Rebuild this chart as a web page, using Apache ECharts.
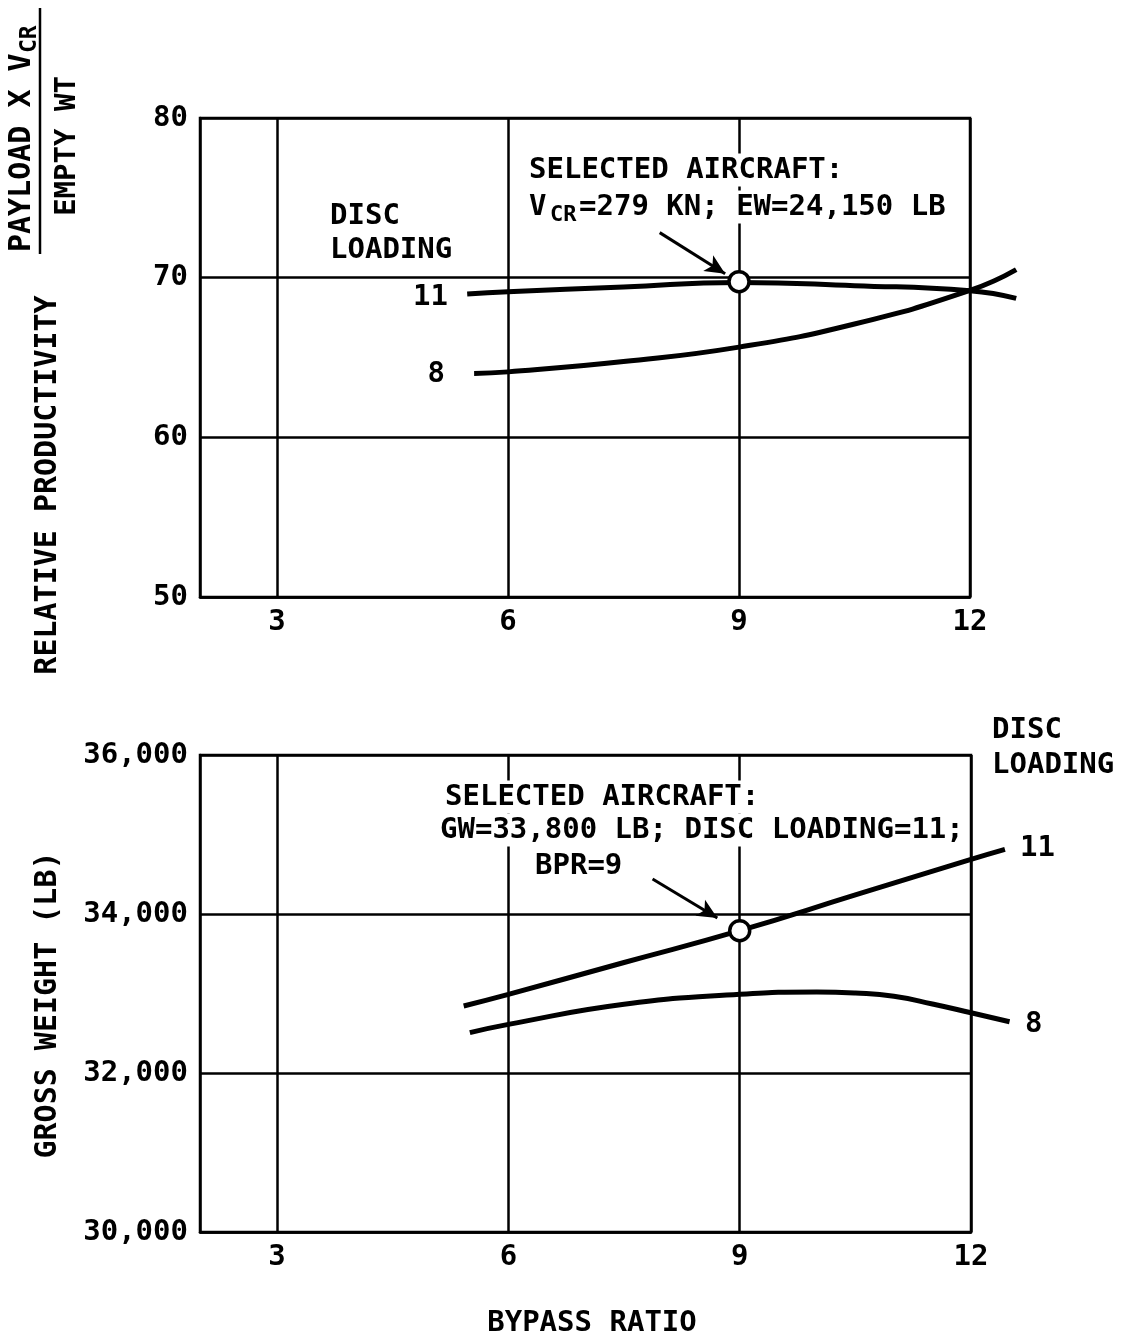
<!DOCTYPE html>
<html>
<head>
<meta charset="utf-8">
<script src="https://cdn.jsdelivr.net/npm/echarts@6/dist/echarts.min.js"></script>
<style>
html,body{margin:0;padding:0;background:#fff;}
#chart{width:1123px;height:1337px;}
</style>
</head>
<body>
<div id="chart"></div>
<script>
// ---- data ----
const xTicks = [3, 6, 9, 12];
// Top chart: relative productivity vs bypass ratio
const topX11 = [5.47, 6, 7.5, 9, 10.5, 12, 12.6];
const topY11 = [68.98, 69.12, 69.42, 69.7, 69.5, 69.18, 68.7];
const topX8  = [5.56, 6, 7.5, 9, 10.5, 12, 12.6];
const topY8  = [64.0, 64.1, 64.75, 65.65, 67.1, 69.2, 70.5];
const topSelected = [9, 69.75];
const topArrow = [[7.97, 72.82], [8.82, 70.25]];
// Bottom chart: gross weight vs bypass ratio
const botX11 = [5.42, 6, 7.5, 9, 10.5, 12, 12.44];
const botY11 = [32843, 32989, 33390, 33790, 34240, 34688, 34814];
const botX8  = [5.5, 6, 7.5, 9, 10, 10.5, 11, 11.5, 12, 12.5];
const botY8  = [32507, 32612, 32864, 32990, 33020, 33006, 32965, 32868, 32758, 32645];
const botSelected = [9, 33790];
const botArrow = [[7.87, 34440], [8.71, 33950]];

const FONT = '"DejaVu Sans Mono", monospace';
const FS = 29;
const X_MIN = 2, X_MAX = 12, X_EXT = 12.7; // curves run a little past the frame
const pairs = (xs, ys) => xs.map((x, i) => [x, ys[i]]);

const chart = echarts.init(document.getElementById('chart'), null, {renderer: 'canvas'});

const G_LEFT = 200;
const G_TOP_W = 770, G_BOT_W = 771;
const extW = w => w * (X_EXT - X_MIN) / (X_MAX - X_MIN);

function xAxisDef(gi) {
  return {
    type: 'value', gridIndex: gi, min: X_MIN, max: X_MAX,
    axisLine: {show: true, lineStyle: {color: '#000', width: 2.5}},
    axisTick: {show: false, customValues: xTicks},
    axisLabel: {customValues: xTicks, color: '#000', fontFamily: FONT, fontWeight: 'bold', fontSize: FS, margin: 11},
    splitLine: {show: true, lineStyle: {color: '#000', width: 2.5}}
  };
}
function xAxisHidden(gi) {
  return {type: 'value', gridIndex: gi, min: X_MIN, max: X_EXT, show: false, splitLine: {show: false}};
}
function yAxisDef(gi, min, max, interval, fmt) {
  return {
    type: 'value', gridIndex: gi, min: min, max: max, interval: interval,
    axisLine: {show: true, lineStyle: {color: '#000', width: 2.5}},
    axisTick: {show: false},
    axisLabel: {color: '#000', fontFamily: FONT, fontWeight: 'bold', fontSize: FS, margin: 12, formatter: fmt},
    splitLine: {show: true, lineStyle: {color: '#000', width: 2.5}}
  };
}
function yAxisHidden(gi, min, max) {
  return {type: 'value', gridIndex: gi, min: min, max: max, show: false, splitLine: {show: false}};
}
function lineSeries(ai, data) {
  return {
    type: 'line', xAxisIndex: ai, yAxisIndex: ai, data: data,
    smooth: true, showSymbol: false, symbol: 'none',
    lineStyle: {color: '#000', width: 5}, z: 5
  };
}
function selSeries(ai, pt, arrow) {
  return {
    type: 'scatter', xAxisIndex: ai, yAxisIndex: ai, data: [pt],
    symbol: 'circle', symbolSize: 20, z: 10,
    itemStyle: {color: '#fff', borderColor: '#000', borderWidth: 3.5, opacity: 1},
    markLine: {
      silent: true, symbol: ['none', 'arrow'], symbolSize: [14, 20],
      label: {show: false},
      lineStyle: {color: '#000', width: 3, type: 'solid', opacity: 1},
      data: [[{coord: arrow[0]}, {coord: arrow[1]}]]
    }
  };
}
function txt(x, y, text, opts) {
  opts = opts || {};
  return {
    type: 'text', x: x, y: y, z: opts.z || 50, rotation: opts.rot || 0,
    style: {
      text: text, fill: '#000',
      font: 'bold ' + (opts.fs || FS) + 'px ' + FONT,
      align: opts.align || 'left', verticalAlign: 'middle',
      backgroundColor: opts.bg || 'transparent',
      padding: opts.bg ? [2, 2] : 0
    }
  };
}

const option = {
  backgroundColor: '#fff',
  animation: false,
  grid: [
    {left: G_LEFT, top: 118, width: G_TOP_W, height: 479, show: true, borderColor: '#000', borderWidth: 2.5, backgroundColor: 'transparent'},
    {left: G_LEFT, top: 755, width: G_BOT_W, height: 477, show: true, borderColor: '#000', borderWidth: 2.5, backgroundColor: 'transparent'},
    {left: G_LEFT, top: 118, width: extW(G_TOP_W), height: 479, show: false},
    {left: G_LEFT, top: 755, width: extW(G_BOT_W), height: 477, show: false}
  ],
  xAxis: [xAxisDef(0), xAxisDef(1), xAxisHidden(2), xAxisHidden(3)],
  yAxis: [
    yAxisDef(0, 50, 80, 10, v => String(v)),
    yAxisDef(1, 30000, 36000, 2000, v => v.toLocaleString('en-US')),
    yAxisHidden(2, 50, 80),
    yAxisHidden(3, 30000, 36000)
  ],
  series: [
    lineSeries(2, pairs(topX11, topY11)),
    lineSeries(2, pairs(topX8, topY8)),
    selSeries(0, topSelected, topArrow),
    lineSeries(3, pairs(botX11, botY11)),
    lineSeries(3, pairs(botX8, botY8)),
    selSeries(1, botSelected, botArrow)
  ],
  graphic: [
    // y-axis titles
    {
      type: 'group', x: 22, y: 252, rotation: Math.PI / 2,
      children: [
        txt(0, 0, 'PAYLOAD X V', {fs: 30}),
        txt(199, 8, 'CR', {fs: 23})
      ]
    },
    {type: 'line', shape: {x1: 40, y1: 8, x2: 40, y2: 254}, style: {stroke: '#000', lineWidth: 2.5}},
    txt(67, 146, 'EMPTY WT', {rot: Math.PI / 2, align: 'center'}),
    txt(48, 485, 'RELATIVE PRODUCTIVITY', {rot: Math.PI / 2, align: 'center', fs: 30}),
    txt(48, 1005, 'GROSS WEIGHT (LB)', {rot: Math.PI / 2, align: 'center', fs: 30}),
    txt(592, 1323, 'BYPASS RATIO', {align: 'center'}),
    // top chart annotations
    txt(527, 170, 'SELECTED AIRCRAFT:', {bg: '#fff'}),
    txt(527, 207, 'V', {bg: '#fff'}),
    txt(548, 215, 'CR', {fs: 22, bg: '#fff'}),
    txt(577, 207, '=279 KN; EW=24,150 LB', {bg: '#fff'}),
    txt(330, 216, 'DISC'),
    txt(330, 250, 'LOADING'),
    txt(448, 297, '11', {align: 'right'}),
    txt(445, 374, '8', {align: 'right'}),
    // bottom chart annotations
    txt(443, 797, 'SELECTED AIRCRAFT:', {bg: '#fff'}),
    txt(438, 830, 'GW=33,800 LB; DISC LOADING=11;', {bg: '#fff'}),
    txt(533, 866, 'BPR=9', {bg: '#fff'}),
    txt(992, 730, 'DISC'),
    txt(992, 765, 'LOADING'),
    txt(1020, 848, '11'),
    txt(1025, 1024, '8')
  ]
};
chart.setOption(option);
</script>
</body>
</html>
